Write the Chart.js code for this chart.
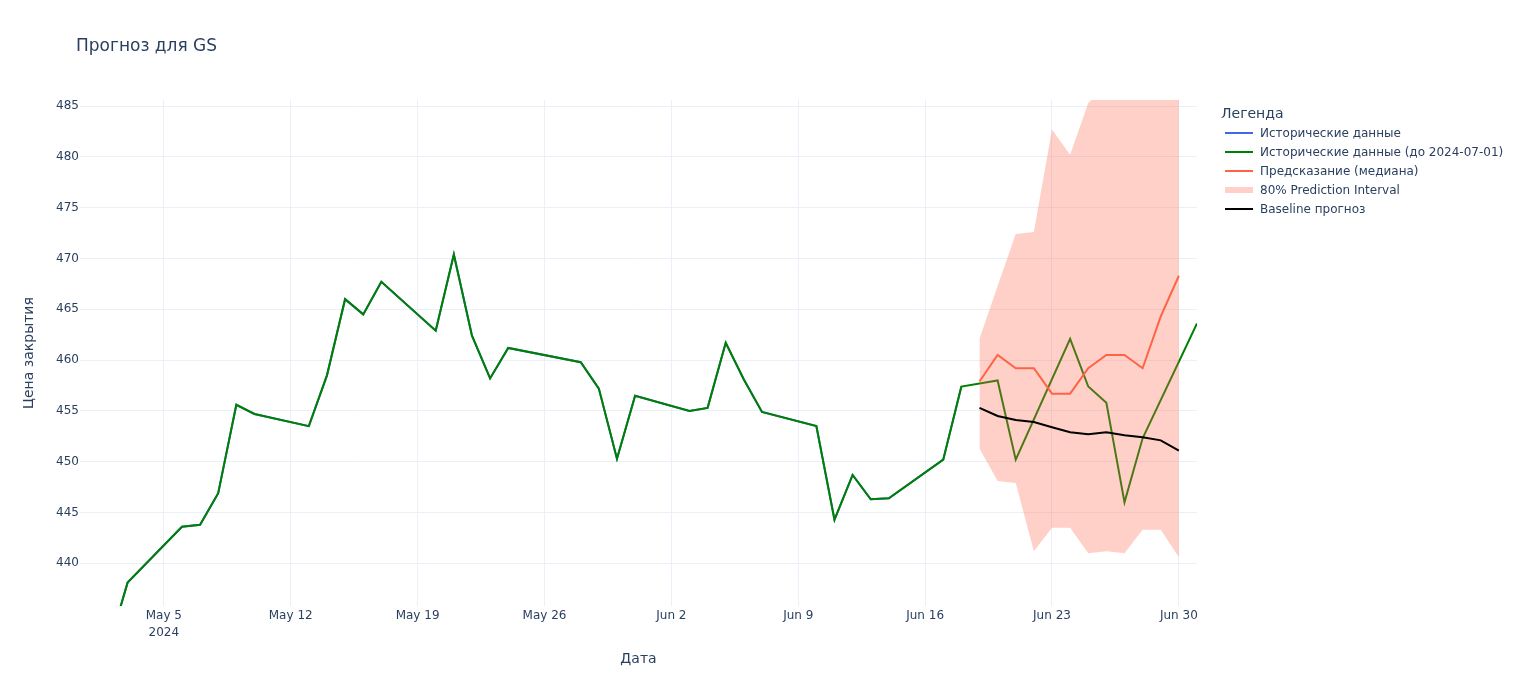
<!DOCTYPE html>
<html>
<head>
<meta charset="utf-8">
<title>Прогноз для GS</title>
<script src="https://cdn.jsdelivr.net/npm/chart.js@4.4.1/dist/chart.umd.min.js"></script>
<style>
  html, body { margin: 0; padding: 0; background: #fff; }
  #wrap { position: relative; width: 1520px; height: 687px; font-family: "DejaVu Sans", Verdana, sans-serif; color: #2a3f5f; }
  #chart { position: absolute; left: 0; top: 0; }
  #legend { position: absolute; left: 1221px; top: 104px; }
  #legend .ttl { height: 19px; line-height: 19px; font-size: 14px; }
  #legend .row { height: 19px; display: flex; align-items: center; font-size: 12px; white-space: nowrap; }
  #legend .sw { display: inline-block; width: 28px; margin-left: 4px; margin-right: 7px; }
</style>
</head>
<body>
<div id="wrap">
  <canvas id="chart" width="1520" height="687"></canvas>
  <div id="legend"></div>
</div>
<script>
'use strict';

// --- data ---
const histDates = [
  '2024-05-02', '2024-05-03', '2024-05-06', '2024-05-07', '2024-05-08', '2024-05-09', '2024-05-10',
  '2024-05-13', '2024-05-14', '2024-05-15', '2024-05-16', '2024-05-17',
  '2024-05-20', '2024-05-21', '2024-05-22', '2024-05-23', '2024-05-24',
  '2024-05-28', '2024-05-29', '2024-05-30', '2024-05-31',
  '2024-06-03', '2024-06-04', '2024-06-05', '2024-06-06', '2024-06-07',
  '2024-06-10', '2024-06-11', '2024-06-12', '2024-06-13', '2024-06-14',
  '2024-06-17', '2024-06-18'
];
const histValues = [
  432.0, 438.1, 443.6, 443.8, 446.9, 455.6, 454.7,
  453.5, 458.5, 466.0, 464.5, 467.7,
  462.9, 470.4, 462.4, 458.2, 461.2,
  459.8, 457.2, 450.3, 456.5,
  455.0, 455.3, 461.7, 458.1, 454.9,
  453.5, 444.3, 448.7, 446.3, 446.4,
  450.2, 457.4
];
const actualDates = histDates.concat([
  '2024-06-20', '2024-06-21', '2024-06-24', '2024-06-25', '2024-06-26',
  '2024-06-27', '2024-06-28', '2024-07-01'
]);
const actualValues = histValues.concat([
  458.0, 450.2, 462.1, 457.4, 455.8,
  446.0, 452.3, 463.6
]);

const fcDates = [
  '2024-06-19', '2024-06-20', '2024-06-21', '2024-06-22', '2024-06-23', '2024-06-24',
  '2024-06-25', '2024-06-26', '2024-06-27', '2024-06-28', '2024-06-29', '2024-06-30'
];
const medianValues   = [457.9, 460.5, 459.2, 459.2, 456.7, 456.7, 459.2, 460.5, 460.5, 459.2, 464.3, 468.3];
const lowerValues    = [451.3, 448.1, 447.9, 441.2, 443.5, 443.5, 441.0, 441.2, 441.0, 443.3, 443.3, 440.6];
const upperValues    = [462.1, 467.3, 472.4, 472.6, 482.7, 480.2, 485.3, 487.0, 487.5, 487.5, 488.0, 489.0];
const baselineValues = [455.3, 454.5, 454.1, 453.9, 453.4, 452.9, 452.7, 452.9, 452.6, 452.4, 452.1, 451.1];

const xTickDates  = ['2024-05-05', '2024-05-12', '2024-05-19', '2024-05-26', '2024-06-02',
                     '2024-06-09', '2024-06-16', '2024-06-23', '2024-06-30'];
const xTickLabels = [['May 5', '2024'], 'May 12', 'May 19', 'May 26', 'Jun 2',
                     'Jun 9', 'Jun 16', 'Jun 23', 'Jun 30'];
const xRange = ['2024-04-30T09:00', '2024-07-01T00:00'];
const yTicks = [440, 445, 450, 455, 460, 465, 470, 475, 480, 485];
const yRange = [435.8, 485.6];

const seriesNames = [
  'Исторические данные',
  'Исторические данные (до 2024-07-01)',
  'Предсказание (медиана)',
  '80% Prediction Interval',
  'Baseline прогноз'
];

// --- helpers ---
const ORIGIN = Date.parse('2024-05-05T00:00:00Z');
function day(s) {
  const iso = s.length === 10 ? s + 'T00:00:00Z' : s + ':00Z';
  return (Date.parse(iso) - ORIGIN) / 86400000;
}
function pts(dates, values) {
  return dates.map((d, i) => ({ x: day(d), y: values[i] }));
}

const FONT = '"DejaVu Sans", Verdana, sans-serif';
const TEXT = '#2a3f5f';
const GRID = '#ebf0f8';
const BLUE = 'royalblue';
const GREEN = 'green';
const TOMATO = 'tomato';
const BAND = 'rgba(255, 99, 71, 0.3)';

const tickDays = xTickDates.map(day);

const textPlugin = {
  id: 'plotlyText',
  afterDraw(chart) {
    const ctx = chart.ctx;
    const area = chart.chartArea;
    ctx.save();
    ctx.fillStyle = TEXT;
    ctx.textBaseline = 'alphabetic';
    ctx.font = '17px ' + FONT;
    ctx.textAlign = 'left';
    ctx.fillText('Прогноз для GS', 76, 51);
    ctx.font = '14px ' + FONT;
    ctx.textAlign = 'center';
    ctx.fillText('Дата', (area.left + area.right) / 2, 663);
    ctx.translate(33, (area.top + area.bottom) / 2);
    ctx.rotate(-Math.PI / 2);
    ctx.fillText('Цена закрытия', 0, 0);
    ctx.restore();
  }
};

const line = (label, data, color, order) => ({
  label, data, order,
  borderColor: color,
  backgroundColor: color,
  borderWidth: 2,
  pointRadius: 0,
  tension: 0,
  fill: false
});

new Chart(document.getElementById('chart'), {
  type: 'line',
  data: {
    datasets: [
      line(seriesNames[4], pts(fcDates, baselineValues), '#000000', 0),
      {
        label: seriesNames[3],
        data: pts(fcDates, upperValues),
        order: 1,
        borderColor: 'transparent',
        borderWidth: 0,
        backgroundColor: BAND,
        pointRadius: 0,
        tension: 0,
        fill: '+1'
      },
      {
        label: seriesNames[3] + ' (low)',
        data: pts(fcDates, lowerValues),
        order: 2,
        borderColor: 'transparent',
        borderWidth: 0,
        pointRadius: 0,
        tension: 0,
        fill: false
      },
      line(seriesNames[2], pts(fcDates, medianValues), TOMATO, 3),
      line(seriesNames[1], pts(actualDates, actualValues), GREEN, 4),
      line(seriesNames[0], pts(histDates, histValues), BLUE, 5)
    ]
  },
  options: {
    responsive: false,
    animation: false,
    events: [],
    layout: { padding: { left: 0, top: 100, right: 323, bottom: 21 } },
    plugins: {
      legend: { display: false },
      title: { display: false },
      tooltip: { enabled: false }
    },
    scales: {
      x: {
        type: 'linear',
        min: day(xRange[0]),
        max: day(xRange[1]),
        afterBuildTicks: (s) => { s.ticks = tickDays.map(v => ({ value: v })); },
        afterFit: (s) => { s.height = 60; },
        grid: { color: GRID, drawTicks: false },
        border: { display: false },
        ticks: {
          color: TEXT,
          font: { family: FONT, size: 12, lineHeight: '17px' },
          padding: 1,
          maxRotation: 0,
          autoSkip: false,
          callback: (v) => {
            const i = tickDays.indexOf(v);
            return i >= 0 ? xTickLabels[i] : '';
          }
        }
      },
      y: {
        type: 'linear',
        min: yRange[0],
        max: yRange[1],
        afterBuildTicks: (s) => { s.ticks = yTicks.map(v => ({ value: v })); },
        afterFit: (s) => { s.width = 80; },
        grid: { color: GRID, drawTicks: false },
        border: { display: false },
        ticks: {
          color: TEXT,
          font: { family: FONT, size: 12 },
          padding: 1,
          callback: (v) => String(v)
        }
      }
    }
  },
  plugins: [textPlugin]
});

// --- legend (plotly style, right of plot) ---
const legendColors = [BLUE, GREEN, TOMATO, BAND, '#000000'];
const legendEl = document.getElementById('legend');
const ttl = document.createElement('div');
ttl.className = 'ttl';
ttl.textContent = 'Легенда';
legendEl.appendChild(ttl);
seriesNames.forEach((name, i) => {
  const row = document.createElement('div');
  row.className = 'row';
  const sw = document.createElement('span');
  sw.className = 'sw';
  sw.style.height = i === 3 ? '6px' : '2px';
  sw.style.background = legendColors[i];
  const tx = document.createElement('span');
  tx.textContent = name;
  row.appendChild(sw);
  row.appendChild(tx);
  legendEl.appendChild(row);
});
</script>
</body>
</html>
